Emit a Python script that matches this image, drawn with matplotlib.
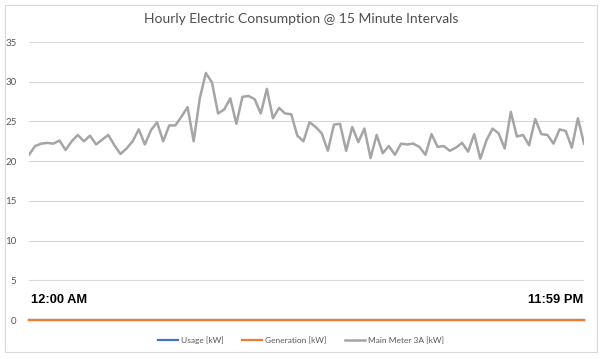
import matplotlib
matplotlib.use("Agg")
import matplotlib.pyplot as plt
from matplotlib.patches import Rectangle

# Main meter readings, one every 15 minutes
main_meter = [
    20.8, 21.9, 22.2, 22.3, 22.2, 22.6, 21.4, 22.5, 23.3, 22.5,
    23.2, 22.1, 22.7, 23.3, 22.0, 20.9, 21.6, 22.5, 24.0, 22.1,
    23.9, 24.9, 22.5, 24.5, 24.5, 25.6, 26.8, 22.5, 27.9, 31.1,
    29.9, 26.0, 26.5, 27.9, 24.7, 28.1, 28.2, 27.8, 26.0, 29.1,
    25.4, 26.7, 26.0, 25.9, 23.2, 22.5, 24.9, 24.3, 23.5, 21.3,
    24.6, 24.7, 21.3, 24.3, 22.4, 24.1, 20.4, 23.3, 21.0, 21.9,
    20.8, 22.2, 22.1, 22.2, 21.8, 20.8, 23.4, 21.8, 21.9, 21.3,
    21.7, 22.3, 21.2, 23.4, 20.3, 22.6, 24.1, 23.5, 21.6, 26.2,
    23.1, 23.3, 22.0, 25.3, 23.4, 23.3, 22.2, 24.0, 23.8, 21.7,
    25.4, 22.2,
]
usage = [0.0] * len(main_meter)
generation = [0.0] * len(main_meter)
intervals = list(range(len(main_meter)))

series_labels = ["Usage [kW]", "Generation [kW]", "Main Meter 3A [kW]"]
y_ticks = [0, 5, 10, 15, 20, 25, 30, 35]
start_label = "12:00 AM"
end_label = "11:59 PM"

W, H = 602, 359
fig = plt.figure(figsize=(W / 100, H / 100), dpi=100)
ax = fig.add_axes([29 / W, 1 - 320 / H, (584 - 29) / W, (320 - 42) / H])

l1, = ax.plot(intervals, usage, color="#4472C4", lw=1.6, clip_on=False, zorder=3)
l2, = ax.plot(intervals, generation, color="#ED7D31", lw=1.6, clip_on=False, zorder=4)
l3, = ax.plot(intervals, main_meter, color="#A5A5A5", lw=1.8, zorder=5)

ax.set_xlim(0, len(main_meter) - 1)
ax.set_ylim(0, 35)
ax.set_yticks(y_ticks)
ax.set_xticks([])
ax.grid(axis="y", color="#D9D9D9", lw=0.8)
ax.set_axisbelow(True)
for s in ax.spines.values():
    s.set_visible(False)
ax.tick_params(axis="y", length=0, pad=9, labelsize=7, labelcolor="#595959")
for t in ax.get_yticklabels():
    t.set_family("Lato")

fig.text(0.5, 1 - 19 / H, "Hourly Electric Consumption @ 15 Minute Intervals",
         ha="center", va="center", fontsize=10, color="#4F4F4F", family="Lato")

fig.text(31 / W, 1 - 300 / H, start_label, ha="left", va="center",
         fontsize=9.3, fontweight="bold", family="Liberation Sans", color="black")
fig.text(583 / W, 1 - 300 / H, end_label, ha="right", va="center",
         fontsize=9.3, fontweight="bold", family="Liberation Sans", color="black")

leg = fig.legend([l1, l2, l3], series_labels, loc="center",
                 bbox_to_anchor=(0.5, 1 - 340 / H), ncol=3, frameon=False,
                 handlelength=2.4, handletextpad=0.35, columnspacing=2.2,
                 prop={"family": "Lato", "size": 6.0})
for t in leg.get_texts():
    t.set_color("#595959")

# chart border like the Excel chart area
fig.add_artist(Rectangle((5 / W, 7 / H), 592 / W, 347 / H, transform=fig.transFigure,
                         fill=False, edgecolor="#D9D9D9", lw=0.8))

fig.savefig("out.png", dpi=100)
